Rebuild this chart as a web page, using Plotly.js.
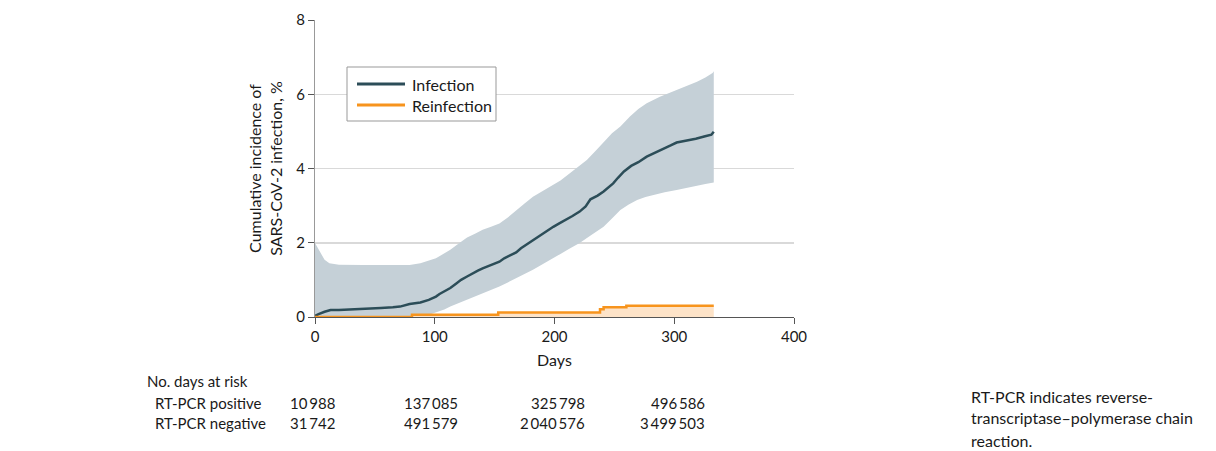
<!DOCTYPE html>
<html>
<head>
<meta charset="utf-8">
<script src="https://cdn.plot.ly/plotly-3.0.1.min.js"></script>
<style>
  html, body { margin: 0; padding: 0; background: #fff; }
  #chart { width: 1216px; height: 451px; }
</style>
</head>
<body>
<div id="chart"></div>
<script>
// ---- Data ----
const infDays = [0,3,8,13,20,30,43,55,65,71,79,88,95,101,104,109,113,118,122,127,131,136,140,145,150,154,158,163,168,172,177,182,187,193,199,204,210,215,221,226,230,236,241,245,249,253,258,264,270,277,284,291,297,302,310,318,325,331,333];
const infVals = [0.03,0.08,0.14,0.19,0.19,0.20,0.21,0.24,0.26,0.28,0.35,0.39,0.46,0.55,0.62,0.70,0.78,0.90,1.0,1.09,1.17,1.25,1.31,1.37,1.43,1.49,1.58,1.65,1.74,1.85,1.96,2.08,2.18,2.3,2.43,2.52,2.62,2.72,2.84,2.98,3.17,3.27,3.38,3.48,3.6,3.75,3.92,4.07,4.17,4.32,4.42,4.52,4.62,4.70,4.74,4.80,4.86,4.91,4.99];

const upDays = [0,3,8,12,20,40,60,79,88,95,101,106,113,120,127,134,140,147,154,161,168,175,182,190,199,205,212,220,227,235,242,248,255,263,270,277,288,299,309,319,326,332,333];
const upVals = [1.99,1.81,1.54,1.45,1.41,1.40,1.39,1.40,1.45,1.51,1.58,1.68,1.81,1.98,2.14,2.25,2.35,2.43,2.52,2.68,2.88,3.06,3.24,3.4,3.56,3.68,3.85,4.05,4.23,4.5,4.75,4.95,5.13,5.4,5.6,5.76,5.93,6.07,6.2,6.34,6.45,6.57,6.62];

const loDays = [0,95,97,104,108,113,120,127,134,140,147,154,161,168,175,182,190,199,205,212,221,228,235,241,248,255,262,269,276,283,292,302,310,319,326,333];
const loVals = [0,0,0.08,0.15,0.2,0.28,0.37,0.46,0.55,0.64,0.73,0.82,0.93,1.04,1.15,1.27,1.42,1.6,1.7,1.83,1.99,2.15,2.3,2.43,2.65,2.88,3.03,3.15,3.23,3.29,3.36,3.42,3.48,3.53,3.58,3.62];

const reDays = [0,81,153,238,241,260,333];
const reVals = [0,0.06,0.12,0.21,0.26,0.30,0.30];

const seriesNames = ["Infection", "Reinfection"];
const riskHeader = "No. days at risk";
const riskRowLabels = ["RT-PCR positive", "RT-PCR negative"];
const riskPositive = ["10988", "137085", "325798", "496586"];
const riskNegative = ["31742", "491579", "2040576", "3499503"];
const xTickVals = [0, 100, 200, 300, 400];
const yTickVals = [0, 2, 4, 6, 8];
const footnoteLines = ["RT-PCR indicates reverse-", "transcriptase–polymerase chain", "reaction."];

// ---- Styling ----
const FONT = "Lato, 'Liberation Sans', sans-serif";
const TXT = "#1a1a1a";
const C_INF = "#2c4d58";
const C_CI = "#c5d0d7";
const C_RE = "#f7941d";
const C_REFILL = "#fde3c8";

function fmt(s) { return s.replace(/\B(?=(\d{3})+(?!\d))/g, "\u2009"); }

const traces = [
  { x: loDays, y: loVals, type: "scatter", mode: "lines", line: {width: 0, shape: "linear", color: C_CI},
    showlegend: false, hoverinfo: "skip" },
  { x: upDays, y: upVals, type: "scatter", mode: "lines", line: {width: 0, shape: "linear", color: C_CI},
    fill: "tonexty", fillcolor: C_CI, showlegend: false, hoverinfo: "skip" },
  { x: reDays, y: reVals, type: "scatter", mode: "lines", line: {width: 0, shape: "hv", color: C_REFILL},
    fill: "tozeroy", fillcolor: C_REFILL, showlegend: false, hoverinfo: "skip" },
  { x: infDays, y: infVals, type: "scatter", mode: "lines", name: seriesNames[0],
    line: {color: C_INF, width: 2.5, shape: "linear"}, showlegend: false },
  { x: reDays, y: reVals, type: "scatter", mode: "lines", name: seriesNames[1],
    line: {color: C_RE, width: 2.5, shape: "hv"}, showlegend: false }
];

// paper coordinate helpers for the plot box: left 315, right 794, top 20, bottom 317
const L = 315, R = 794, T = 20, B = 317;
const px = v => (v - L) / (R - L);
const py = v => (B - v) / (B - T);

const annotations = [];
annotations.push({ xref: "paper", yref: "paper", x: px(145), y: py(381), xanchor: "left", yanchor: "middle",
  text: riskHeader, showarrow: false, font: {family: FONT, size: 15, color: TXT} });
riskRowLabels.forEach((lab, i) => {
  annotations.push({ xref: "paper", yref: "paper", x: px(153), y: py(403 + 20 * i), xanchor: "left", yanchor: "middle",
    text: lab, showarrow: false, font: {family: FONT, size: 15, color: TXT} });
});
const colRight = [337, 460, 587, 707];
[riskPositive, riskNegative].forEach((row, i) => {
  row.forEach((v, j) => {
    annotations.push({ xref: "paper", yref: "paper", x: px(colRight[j]), y: py(403 + 20 * i), xanchor: "right", yanchor: "middle",
      text: fmt(v), showarrow: false, font: {family: FONT, size: 15, color: TXT} });
  });
});
footnoteLines.forEach((t, i) => {
  annotations.push({ xref: "paper", yref: "paper", x: px(969), y: py(396 + 22 * i), xanchor: "left", yanchor: "middle",
    text: t, showarrow: false, font: {family: FONT, size: 16, color: TXT} });
});

// Legend (drawn as a boxed key inside the plot)
const legendColors = [C_INF, C_RE];
const shapes = [
  { type: "rect", xref: "paper", yref: "paper", x0: px(347), x1: px(496), y0: py(121), y1: py(67),
    line: {color: "#999", width: 1}, fillcolor: "#fff", layer: "above" }
];
seriesNames.forEach((n, i) => {
  const yy = py(84 + 21 * i);
  shapes.push({ type: "line", xref: "paper", yref: "paper", x0: px(357), x1: px(405), y0: yy, y1: yy,
    line: {color: legendColors[i], width: 3}, layer: "above" });
  annotations.push({ xref: "paper", yref: "paper", x: px(410), y: yy, xanchor: "left", yanchor: "middle",
    text: n, showarrow: false, font: {family: FONT, size: 16, color: TXT} });
});

const layout = {
  width: 1216, height: 451,
  margin: {l: L, r: 1216 - R, t: T, b: 451 - B, pad: 0},
  paper_bgcolor: "#fff", plot_bgcolor: "#fff",
  font: {family: FONT, size: 15, color: TXT},
  xaxis: {
    range: [0, 400], tickvals: xTickVals, ticks: "outside", ticklen: 6, tickcolor: "#555", tickwidth: 1,
    showline: true, linecolor: "#555", linewidth: 1, showgrid: false, zeroline: false,
    tickfont: {family: FONT, size: 15, color: TXT},
    title: {text: "Days", font: {family: FONT, size: 16, color: TXT}, standoff: 10}
  },
  yaxis: {
    range: [0, 8], tickvals: yTickVals, ticks: "outside", ticklen: 6, tickcolor: "#555", tickwidth: 1,
    showline: true, linecolor: "#999", linewidth: 1, showgrid: true, gridcolor: "#d9d9d9", gridwidth: 1.5, zeroline: false,
    tickfont: {family: FONT, size: 15, color: TXT},
    title: {text: "Cumulative incidence of<br>SARS-CoV-2 infection, %", font: {family: FONT, size: 16, color: TXT}, standoff: 9}
  },
  showlegend: false,
  shapes: shapes,
  annotations: annotations
};

Plotly.newPlot("chart", traces, layout, {staticPlot: true, displayModeBar: false});
</script>
</body>
</html>
